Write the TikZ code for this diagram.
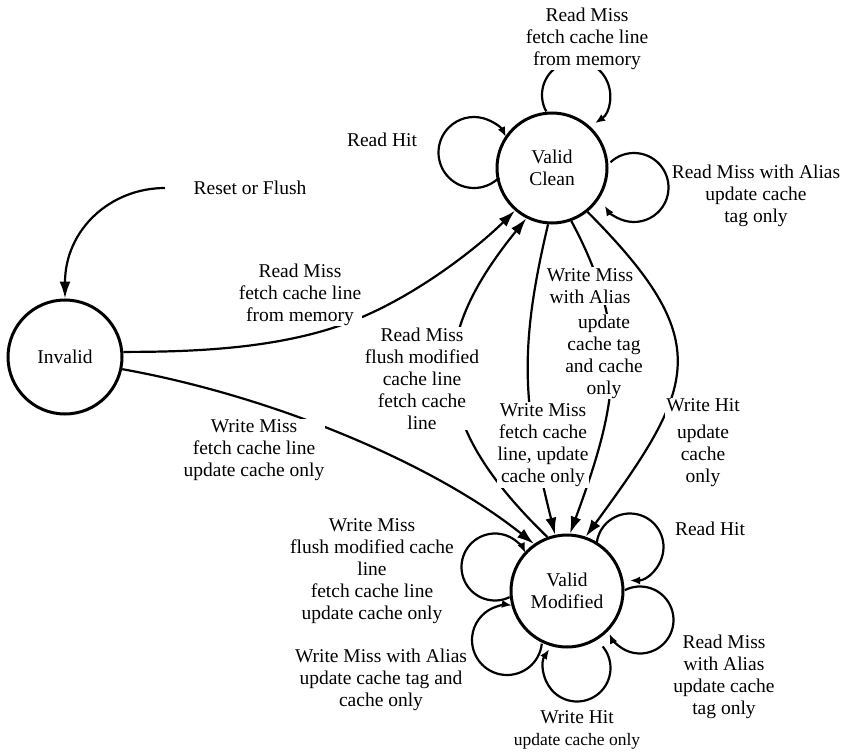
\documentclass[tikz,border=0pt]{standalone}
\usepackage{fontspec}
\setmainfont{Liberation Serif}
\usetikzlibrary{arrows.meta,calc}
\begin{document}
\begin{tikzpicture}[x=1pt,y=1pt,
  state/.style={circle,draw,line width=3pt,minimum size=#1,inner sep=0pt,
    font=\fontsize{19.5}{22}\selectfont,align=center},
  state/.default=110,
  lbl/.style={fill=white,inner sep=1pt,align=center,font=\fontsize{19.5}{22}\selectfont},
  conn/.style={line width=2.2pt,-{Latex[length=17pt,width=11pt]}},
  selfloop/.style={line width=2.2pt,-{Latex[length=10pt,width=8pt]}}]
\useasboundingbox (0,0) rectangle (852,-752);

% states
\node[state=114] (inv) at (65,-357) {Invalid};
\node[state=110] (vc) at (552,-168) {Valid\\Clean};
\node[state=112] (vm) at (567,-591) {Valid\\Modified};

% free end of the reset transition
\coordinate (rst) at (165,-188);

% transitions between states
\draw[conn] (rst) .. controls (110,-188) and (65,-230) .. (inv.90);
\draw[conn] (inv.5) .. controls (200,-352) and (285,-348) .. (355,-320)
            .. controls (415,-296) and (475,-250) .. (vc.229);
\draw[conn] (inv.-12) .. controls (272,-396) and (433,-463) .. (vm.125);
\draw[conn] (vm.110) .. controls (422,-416) and (432,-335) .. (vc.243);
\draw[conn] (vc.266) .. controls (518,-351) and (523,-406) .. (vm.102);
\draw[conn] (vc.290) .. controls (634,-337) and (615,-411) .. (vm.87);
\draw[conn] (vc.309) .. controls (717,-342) and (696,-386) .. (vm.71);

% self loops on Valid Clean
\draw[selfloop] ($(vc)+(24,73)+(209:34)$) arc[start angle=209, end angle=-56, radius=34];
\draw[selfloop] ($(vc)+(-78,15.5)+(-45:35.5)$) arc[start angle=-45, end angle=-334, radius=35.5];
\draw[selfloop] ($(vc)+(82,-19.5)+(133:34.5)$) arc[start angle=133, end angle=-148, radius=34.5];

% self loops on Valid Modified
\draw[selfloop] ($(vm)+(-72,24)+(-64:33.5)$) arc[start angle=-64, end angle=-335, radius=33.5];
\draw[selfloop] ($(vm)+(-60,-49)+(-6:35)$) arc[start angle=-6, end angle=-278, radius=35];
\draw[selfloop] ($(vm)+(10,-77)+(40:33.5)$) arc[start angle=40, end angle=-214, radius=33.5];
\draw[selfloop] ($(vm)+(73,-29)+(117:33.5)$) arc[start angle=117, end angle=-156, radius=33.5];
\draw[selfloop] ($(vm)+(63,44)+(173:33.5)$) arc[start angle=173, end angle=-90, radius=33.5];

% transition labels
\node[lbl] (l1) at (587,-38.5) {Read Miss\\fetch cache line\\from memory};
\node[lbl] (l2) at (382,-140) {Read Hit};
\node[lbl] (l3) at (756,-196) {Read Miss with Alias\\update cache\\tag only};
\node[lbl] (l4) at (250,-188) {Reset or Flush};
\node[lbl] (l5) at (300,-294.5) {Read Miss\\fetch cache line\\from memory};
\node[lbl] (l6) at (422,-378.5) {Read Miss\\flush modified\\cache line\\fetch cache\\line};
\node[lbl] (l7) at (254,-450.5) {Write Miss\\fetch cache line\\update cache only};
\node[lbl] (l8a) at (590,-286) {Write Miss\\with Alias};
\node[lbl] (l8b) at (604,-356.5) {update\\cache tag\\and cache\\only};
\node[lbl] (l9) at (543,-445) {Write Miss\\fetch cache\\line, update\\cache only};
\node[lbl] (l10) at (703,-443) {Write Hit\\[5pt]update\\cache\\only};
\node[lbl] (l11) at (710,-529) {Read Hit};
\node[lbl] (l12) at (724,-676.5) {Read Miss\\with Alias\\update cache\\tag only};
\node[lbl] (l13) at (372,-571) {Write Miss\\flush modified cache\\line\\fetch cache line\\update cache only};
\node[lbl] (l14) at (381,-679.5) {Write Miss with Alias\\update cache tag and\\cache only};
\node[lbl] (l15) at (577,-730) {Write Hit\\{\fontsize{17.5}{20}\selectfont update cache only}};
\end{tikzpicture}
\end{document}
